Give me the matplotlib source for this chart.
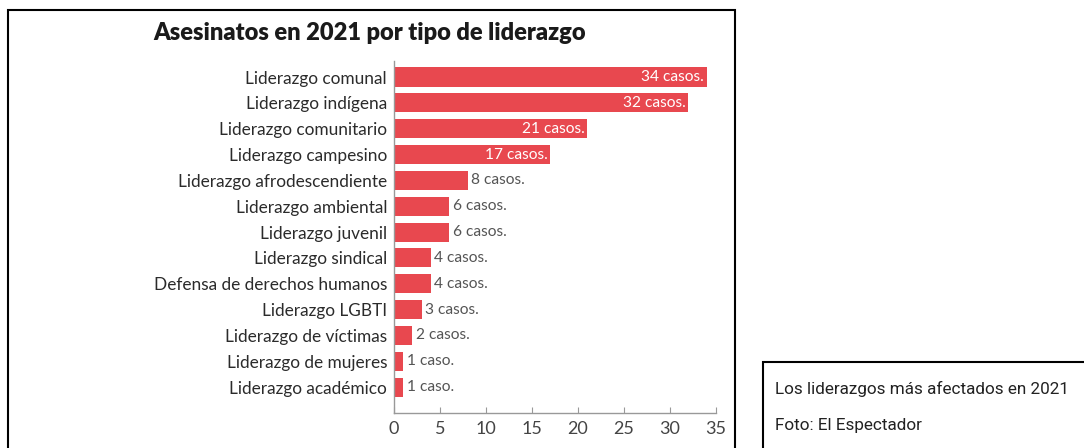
import matplotlib.pyplot as plt
from matplotlib.patches import Rectangle

categorias = [
    "Liderazgo comunal", "Liderazgo indígena", "Liderazgo comunitario",
    "Liderazgo campesino", "Liderazgo afrodescendiente", "Liderazgo ambiental",
    "Liderazgo juvenil", "Liderazgo sindical", "Defensa de derechos humanos",
    "Liderazgo LGBTI", "Liderazgo de víctimas", "Liderazgo de mujeres",
    "Liderazgo académico",
]
casos = [34, 32, 21, 17, 8, 6, 6, 4, 4, 3, 2, 1, 1]
ticks = [0, 5, 10, 15, 20, 25, 30, 35]

rojo = "#e8484f"
gris = "#555555"

fig = plt.figure(figsize=(10.84, 4.48), dpi=100)
ax = fig.add_axes([394 / 1084, 1 - 413 / 448, 322 / 1084, 351.5 / 448])

pos = list(range(len(categorias)))
ax.barh(pos, casos, height=0.74, color=rojo)
ax.set_ylim(13.0, -0.6)
ax.set_xlim(0, 35)
ax.set_yticks(pos)
ax.set_yticklabels(categorias, family="Lato", fontsize=12.4, color="#2b2b2b")
ax.tick_params(axis="y", length=0, pad=5)
ax.set_xticks(ticks)
ax.set_xticklabels([str(t) for t in ticks], family="Lato", fontsize=13, color="#444444")
ax.tick_params(axis="x", direction="in", length=4.5, color="#999999", pad=6)

for s in ("top", "right"):
    ax.spines[s].set_visible(False)
for s in ("left", "bottom"):
    ax.spines[s].set_color("#999999")
    ax.spines[s].set_linewidth(1)

for y, v in zip(pos, casos):
    txt = f"{v} caso." if v == 1 else f"{v} casos."
    if v >= 17:
        ax.text(v - 0.3, y, txt, ha="right", va="center", color="white",
                family="Lato", fontsize=11.2)
    else:
        ax.text(v + 0.4, y, txt, ha="left", va="center", color=gris,
                family="Lato", fontsize=11.2)

fig.text(153 / 1084, 1 - 33 / 448, "Asesinatos en 2021 por tipo de liderazgo",
         family="Lato", weight="heavy", fontsize=17, color="#1a1a1a",
         ha="left", va="center")

# marcos de la imagen y del pie de foto
fig.patches.append(Rectangle((8 / 1084, -0.1), (735 - 8) / 1084, 1.1 - 10 / 448,
                             transform=fig.transFigure, fill=False,
                             edgecolor="black", linewidth=1.5))
fig.patches.append(Rectangle((763 / 1084, -0.1), 0.5, 0.1 + 1 - 362 / 448,
                             transform=fig.transFigure, fill=False,
                             edgecolor="black", linewidth=1.5))
fig.text(775 / 1084, 1 - 389 / 448, "Los liderazgos más afectados en 2021",
         family="Roboto", fontsize=12.3, color="#222222", ha="left", va="center")
fig.text(775 / 1084, 1 - 425 / 448, "Foto: El Espectador",
         family="Roboto", fontsize=12.3, color="#222222", ha="left", va="center")

fig.savefig("out.png", dpi=100)
